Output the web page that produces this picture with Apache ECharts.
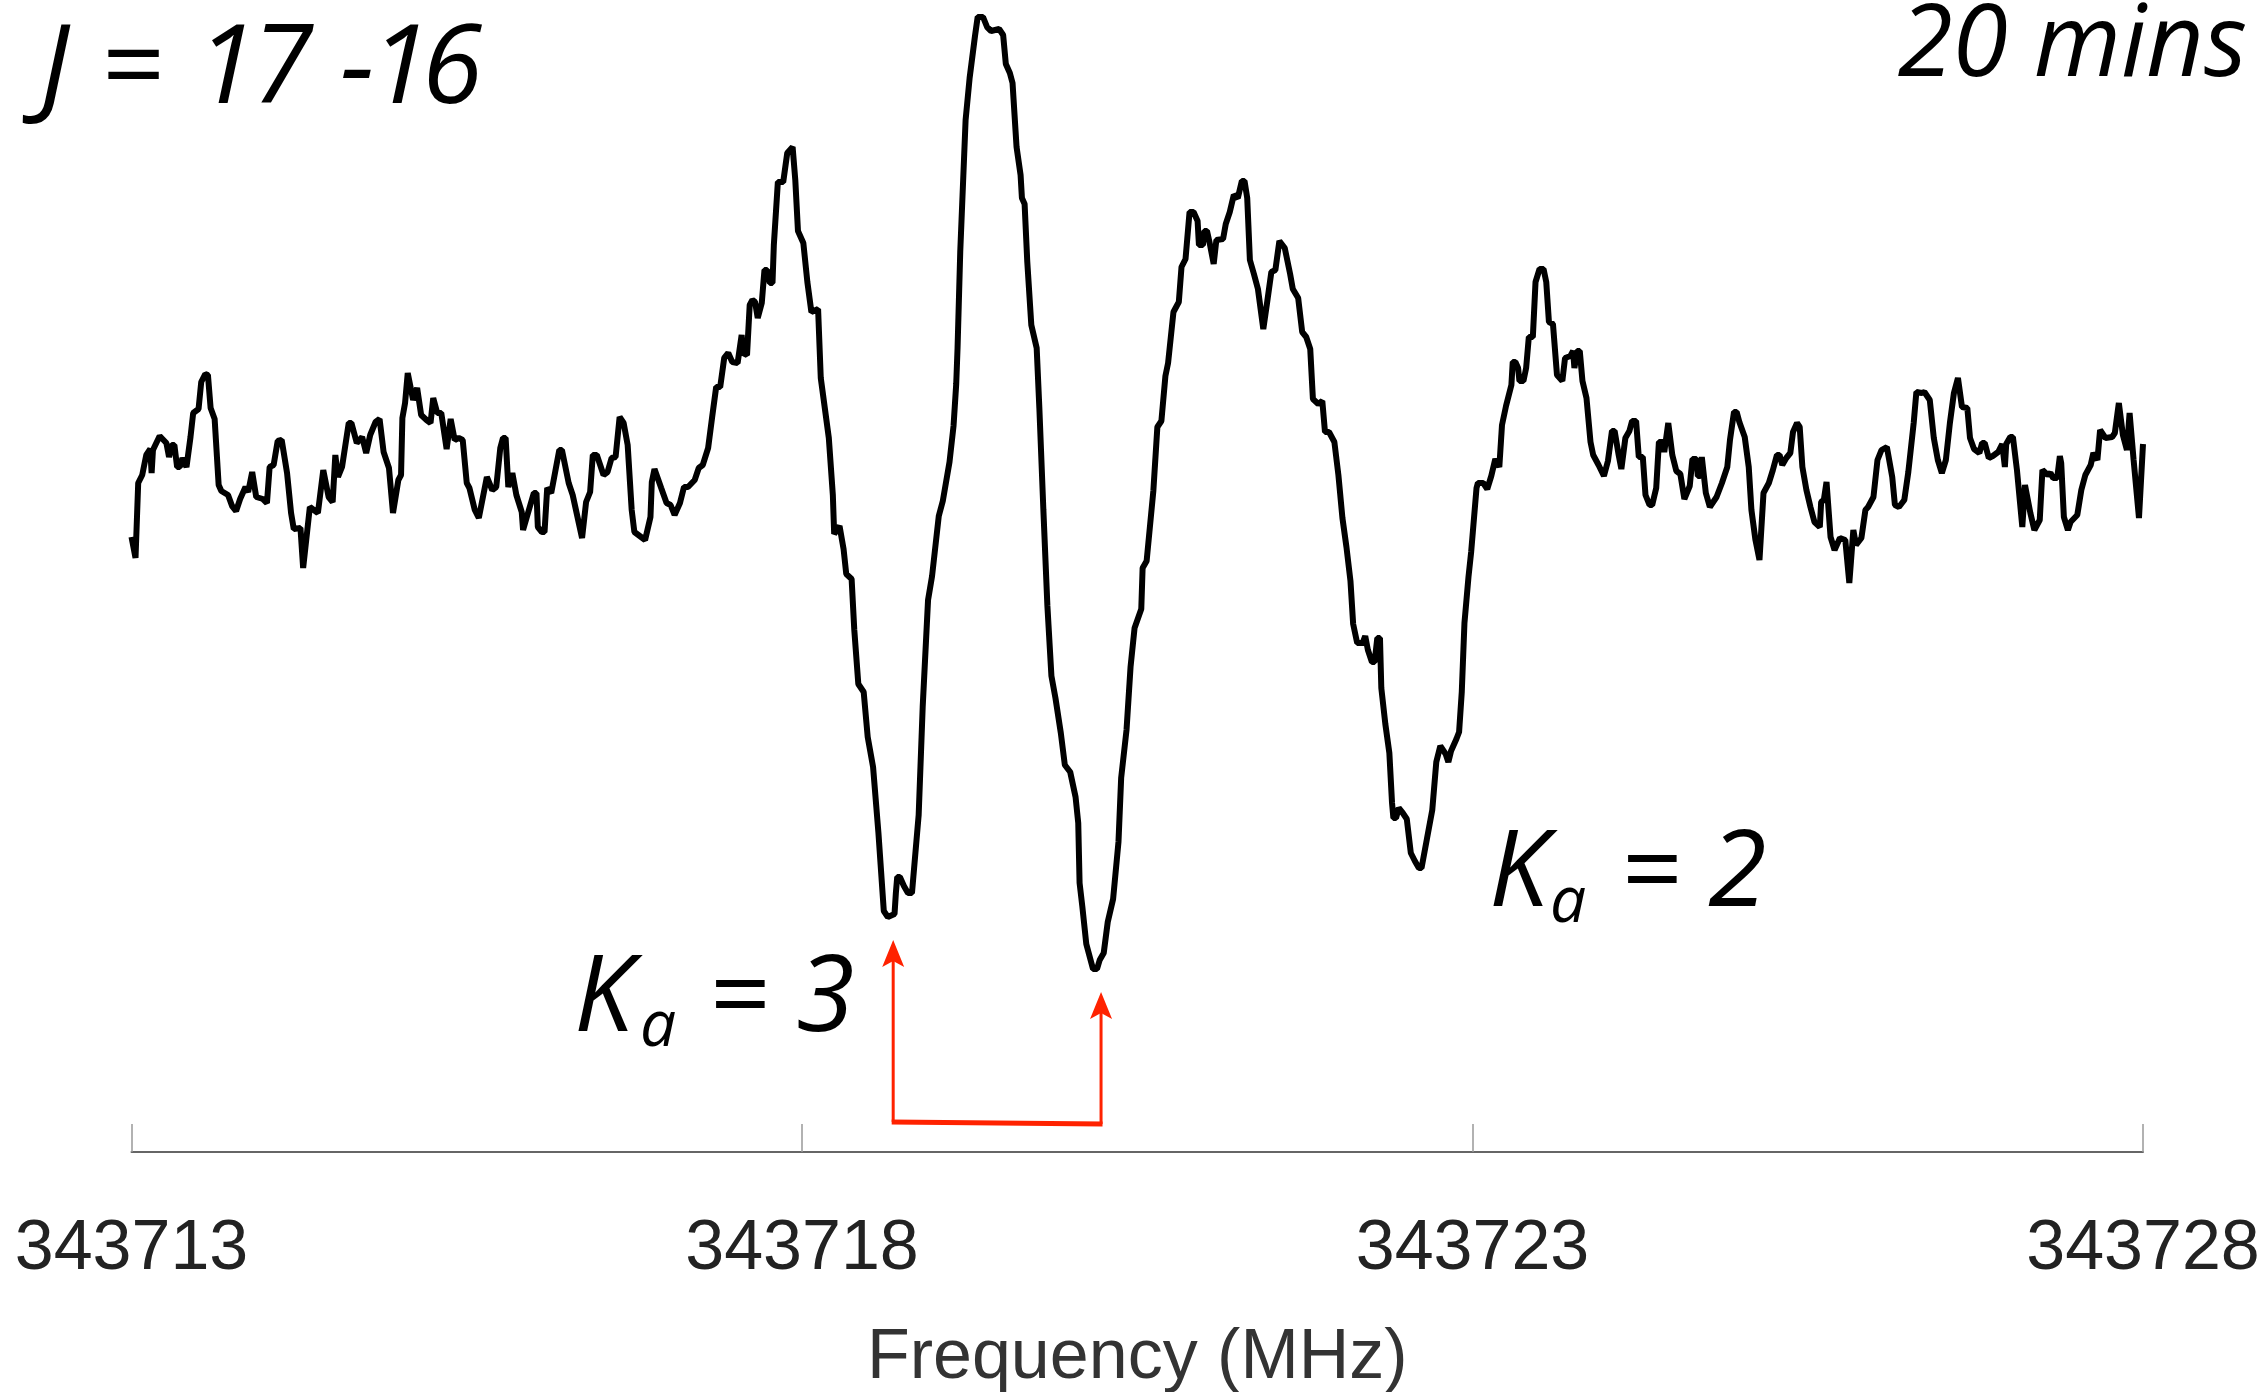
<!DOCTYPE html>
<html>
<head>
<meta charset="utf-8">
<script src="https://cdn.jsdelivr.net/npm/echarts@6/dist/echarts.min.js"></script>
<style>
  html, body { margin: 0; padding: 0; background: #fff; }
  #chart { width: 2266px; height: 1392px; }
</style>
</head>
<body>
<div id="chart"></div>
<script>
// spectrum, frequency in MHz
const freq = [
  343713.00, 343713.03, 343713.05, 343713.08, 343713.11, 343713.14, 343713.15, 343713.16, 343713.21, 343713.26,
  343713.28, 343713.30, 343713.32, 343713.34, 343713.36, 343713.38, 343713.41, 343713.44, 343713.46, 343713.50,
  343713.52, 343713.55, 343713.57, 343713.59, 343713.62, 343713.65, 343713.67, 343713.72, 343713.75, 343713.78,
  343713.81, 343713.85, 343713.87, 343713.90, 343713.93, 343713.98, 343714.01, 343714.03, 343714.06, 343714.09,
  343714.12, 343714.16, 343714.19, 343714.21, 343714.26, 343714.28, 343714.33, 343714.39, 343714.43, 343714.47,
  343714.50, 343714.52, 343714.54, 343714.57, 343714.62, 343714.64, 343714.68, 343714.72, 343714.75, 343714.78,
  343714.82, 343714.85, 343714.88, 343714.92, 343714.95, 343714.99, 343715.01, 343715.02, 343715.04, 343715.06,
  343715.10, 343715.13, 343715.16, 343715.20, 343715.23, 343715.25, 343715.28, 343715.31, 343715.35, 343715.38,
  343715.41, 343715.44, 343715.47, 343715.50, 343715.52, 343715.56, 343715.59,
  343715.65, 343715.69, 343715.72, 343715.75, 343715.77, 343715.79, 343715.81, 343715.84, 343715.85, 343715.87,
  343715.91, 343715.92, 343715.93, 343716.00, 343716.02, 343716.03, 343716.06, 343716.08, 343716.10, 343716.13,
  343716.19, 343716.21, 343716.26, 343716.29, 343716.36, 343716.39, 343716.42, 343716.44, 343716.47, 343716.52,
  343716.55, 343716.58, 343716.61, 343716.64, 343716.67, 343716.70, 343716.73, 343716.75, 343716.83, 343716.87,
  343716.88, 343716.90, 343716.95, 343716.99, 343717.02, 343717.05, 343717.09, 343717.12, 343717.15, 343717.20,
  343717.23, 343717.26, 343717.30, 343717.33, 343717.36, 343717.39, 343717.42, 343717.45, 343717.48, 343717.52,
  343717.55, 343717.56, 343717.59, 343717.61, 343717.63, 343717.65, 343717.67, 343717.70, 343717.72, 343717.74,
  343717.76, 343717.78, 343717.79, 343717.82, 343717.86, 343717.89, 343717.93,
  343717.95, 343717.97, 343718.01, 343718.04, 343718.07, 343718.12, 343718.14, 343718.20, 343718.23, 343718.24,
  343718.28, 343718.31, 343718.33, 343718.37, 343718.39, 343718.42, 343718.46, 343718.49, 343718.53, 343718.57,
  343718.61, 343718.64, 343718.69, 343718.70, 343718.71, 343718.73, 343718.76, 343718.79, 343718.82, 343718.87,
  343718.90, 343718.94, 343718.97, 343719.02, 343719.05, 343719.10, 343719.13, 343719.15, 343719.16, 343719.18,
  343719.22, 343719.25, 343719.29, 343719.31, 343719.35, 343719.38, 343719.41, 343719.47,
  343719.50, 343719.52, 343719.55, 343719.57, 343719.60, 343719.63, 343719.64, 343719.66, 343719.68, 343719.71,
  343719.75, 343719.77, 343719.80, 343719.83, 343719.86, 343719.89, 343719.93, 343719.96, 343720.00, 343720.04,
  343720.06, 343720.07, 343720.09, 343720.12, 343720.17, 343720.20, 343720.22, 343720.25, 343720.28, 343720.32,
  343720.36, 343720.38, 343720.42, 343720.45, 343720.48, 343720.53, 343720.54, 343720.57, 343720.62, 343720.65,
  343720.68, 343720.71, 343720.73,
  343720.77, 343720.81, 343720.83, 343720.86, 343720.89, 343720.92, 343720.95, 343720.96, 343720.99, 343721.00,
  343721.02, 343721.04, 343721.07, 343721.09, 343721.14, 343721.16, 343721.19, 343721.22, 343721.25, 343721.28,
  343721.30, 343721.32, 343721.34, 343721.37, 343721.40, 343721.44, 343721.47, 343721.50, 343721.53, 343721.56,
  343721.60, 343721.64, 343721.66, 343721.70, 343721.73, 343721.76, 343721.79, 343721.81, 343721.85, 343721.88,
  343721.90, 343721.93, 343721.97, 343722.00, 343722.03, 343722.06, 343722.09, 343722.11, 343722.14, 343722.18,
  343722.20, 343722.22, 343722.25, 343722.27, 343722.29, 343722.31, 343722.32, 343722.35, 343722.38, 343722.40,
  343722.41, 343722.43, 343722.45, 343722.48, 343722.51, 343722.54, 343722.57, 343722.60, 343722.62, 343722.66,
  343722.70, 343722.73, 343722.76, 343722.80, 343722.82, 343722.84, 343722.88, 343722.90,
  343722.92, 343722.94, 343722.97, 343722.99, 343723.03, 343723.04, 343723.08, 343723.11, 343723.14, 343723.17,
  343723.20, 343723.22, 343723.25, 343723.29, 343723.30, 343723.32, 343723.34, 343723.35, 343723.38, 343723.40,
  343723.42, 343723.45, 343723.47, 343723.50, 343723.53, 343723.55, 343723.57, 343723.60, 343723.63, 343723.67,
  343723.69, 343723.73, 343723.75, 343723.76, 343723.78, 343723.80, 343723.82, 343723.85, 343723.88, 343723.90,
  343723.94, 343723.98, 343724.01, 343724.04, 343724.06, 343724.09, 343724.11, 343724.14, 343724.17, 343724.19,
  343724.22, 343724.24, 343724.27, 343724.29, 343724.32, 343724.34, 343724.37, 343724.39, 343724.42, 343724.43,
  343724.46, 343724.47, 343724.49, 343724.52, 343724.55, 343724.58, 343724.62, 343724.64, 343724.67, 343724.68,
  343724.70, 343724.71, 343724.72, 343724.74, 343724.77,
  343724.82, 343724.86, 343724.90, 343724.92, 343724.95, 343724.97, 343724.99, 343725.03, 343725.06, 343725.08,
  343725.11, 343725.14, 343725.17, 343725.21, 343725.24, 343725.27, 343725.29, 343725.31, 343725.34, 343725.37,
  343725.39, 343725.42, 343725.44, 343725.46, 343725.49, 343725.52, 343725.55, 343725.59, 343725.60, 343725.62,
  343725.64, 343725.67, 343725.70, 343725.74, 343725.78, 343725.81, 343725.84, 343725.86, 343725.90, 343725.93,
  343725.95, 343725.99, 343726.02, 343726.05, 343726.09, 343726.13, 343726.15, 343726.18, 343726.22, 343726.25,
  343726.29, 343726.31, 343726.35, 343726.37, 343726.41, 343726.44, 343726.47, 343726.50, 343726.53, 343726.56,
  343726.59, 343726.62, 343726.65, 343726.69, 343726.71, 343726.74, 343726.78, 343726.80, 343726.82, 343726.85,
  343726.88, 343726.92, 343726.95, 343726.97, 343726.98, 343727.01, 343727.03, 343727.06, 343727.10, 343727.12,
  343727.16, 343727.19, 343727.23, 343727.25, 343727.29, 343727.31, 343727.33, 343727.36, 343727.38, 343727.39,
  343727.41, 343727.44, 343727.46, 343727.51, 343727.54, 343727.57, 343727.61, 343727.63, 343727.66, 343727.68,
  343727.72, 343727.77, 343727.79, 343727.82, 343727.85, 343727.88, 343727.90, 343727.93, 343727.97, 343728.00
];
// antenna temperature, arbitrary units
const intensity = [
  -3.7, -5.8, 1.7, 2.5, 4.5, 5.1, 2.7, 5.0, 6.4, 5.7,
  4.3, 5.5, 5.5, 3.3, 3.3, 4.2, 3.3, 6.3, 8.7, 9.1,
  11.8, 12.6, 12.5, 9.2, 8.1, 1.5, 0.9, 0.5, -0.6, -1.1,
  0.1, 1.3, 0.8, 2.8, 0.3, 0.1, -0.3, 3.3, 3.5, 5.9,
  6.0, 2.7, -1.3, -2.9, -2.8, -6.8, -0.7, -1.3, 3.0, 0.3,
  -0.2, 4.5, 2.3, 3.3, 7.7, 7.7, 5.7, 6.3, 4.7, 6.5,
  7.8, 8.1, 4.8, 3.2, -1.3, 2.0, 2.5, 8.2, 9.7, 12.7,
  10.0, 11.2, 8.5, 8.0, 7.7, 10.2, 8.7, 8.7, 5.1, 8.1,
  6.0, 6.2, 6.0, 1.7, 1.2, -1.0, -1.8,
  2.3, 1.0, 1.3, 5.2, 6.2, 6.2, 1.3, 2.7, 2.7, 0.5,
  -1.2, -3.0, -2.8, 0.7, 0.7, -2.7, -3.2, -3.2, 1.2, 0.7,
  5.0, 5.0, 1.7, 0.5, -3.8, -0.2, 0.8, 4.5, 4.5, 2.5,
  2.8, 4.2, 4.3, 8.3, 7.7, 5.5, -1.0, -3.2, -4.0, -1.7,
  1.8, 3.1, 1.2, -0.3, -0.5, -1.5, -0.3, 1.3, 1.3, 2.0,
  3.2, 3.5, 5.2, 8.3, 11.3, 11.3, 14.2, 14.7, 13.8, 13.7,
  16.5, 14.7, 14.5, 19.5, 20.0, 19.8, 18.2, 19.7, 23.0, 23.0,
  21.7, 21.7, 25.5, 31.8, 31.8, 34.7, 35.3,
  32.0, 26.9, 25.7, 21.8, 18.8, 19.1, 12.2, 6.2, 0.5, -3.4,
  -2.6, -4.9, -7.4, -7.9, -13.0, -18.4, -19.2, -23.7, -26.7, -33.3,
  -41.1, -41.7, -41.4, -39.3, -37.7, -37.7, -38.6, -39.3, -39.3, -31.5,
  -20.7, -10.0, -7.6, -1.6, -0.1, 3.8, 7.4, 11.6, 15.2, 24.8,
  38.0, 42.2, 46.4, 48.3, 48.3, 47.3, 46.9, 47.1,
  46.5, 43.6, 42.7, 41.7, 35.3, 32.5, 30.2, 29.6, 23.8, 17.5,
  15.2, 9.2, -1.0, -10.6, -17.6, -19.8, -23.3, -26.5, -27.2, -29.7,
  -32.3, -38.3, -40.6, -44.4, -46.9, -46.9, -46.0, -45.3, -42.2, -39.9,
  -34.2, -27.8, -23.0, -16.7, -12.8, -10.9, -6.8, -6.1, 0.9, 7.3,
  7.9, 12.4, 13.7,
  18.8, 19.8, 23.3, 24.1, 28.8, 28.8, 27.9, 25.5, 25.5, 26.9,
  26.9, 25.7, 23.6, 26.0, 26.1, 27.6, 28.8, 30.5, 30.2, 31.9,
  31.9, 30.2, 24.0, 22.6, 21.1, 17.1, 19.9, 22.8, 23.0, 25.9,
  25.2, 22.6, 21.1, 20.2, 16.8, 16.3, 15.1, 10.1, 9.6, 9.9,
  6.8, 6.8, 5.8, 2.5, -1.8, -4.7, -8.1, -12.4, -14.3, -14.3,
  -13.6, -15.0, -16.2, -16.2, -13.8, -13.8, -18.8, -22.4, -25.3, -30.3,
  -31.8, -31.8, -30.8, -31.3, -31.9, -35.3, -36.1, -36.8, -36.8, -33.9,
  -31.0, -26.2, -24.6, -25.4, -26.2, -25.1, -23.9, -23.2,
  -19.2, -12.3, -7.7, -5.2, 1.2, 1.7, 1.7, 1.1, 2.4, 4.1,
  3.3, 7.5, 9.4, 11.5, 13.8, 13.8, 13.2, 11.9, 11.9, 13.2,
  16.3, 16.3, 21.8, 23.1, 23.1, 21.8, 17.8, 17.6, 12.5, 11.9,
  14.2, 14.4, 14.9, 13.2, 14.9, 14.9, 11.9, 10.2, 5.8, 4.5,
  3.5, 2.4, 3.9, 6.9, 6.9, 4.5, 3.1, 6.2, 6.9, 7.9,
  7.9, 4.3, 4.3, 0.5, -0.5, -0.5, 1.2, 5.8, 5.8, 4.8,
  7.7, 7.7, 4.5, 2.9, 2.6, 0.1, 1.4, 4.1, 4.1, 2.4,
  2.4, 4.3, 4.3, 0.7, -0.7,
  0.3, 1.7, 3.3, 6.0, 8.8, 8.8, 7.8, 6.3, 3.3, -1.0,
  -4.0, -6.0, 0.7, 1.7, 3.0, 4.5, 4.5, 3.5, 4.2, 4.7,
  6.8, 7.7, 7.3, 3.3, 1.0, -0.7, -2.2, -2.7, -0.2, 0.0,
  1.8, -3.7, -5.0, -3.8, -4.0, -8.3, -3.0, -4.5, -3.8, -1.0,
  -0.7, 0.3, 4.0, 5.0, 5.3, 2.3, -0.5, -0.7, 0.0, 2.8,
  7.7, 10.8, 10.7, 10.8, 10.0, 6.2, 4.0, 2.7, 4.0, 7.7,
  10.7, 12.2, 9.3, 9.2, 6.2, 5.1, 4.7, 5.7, 5.7, 4.2,
  4.4, 4.8, 5.6, 3.3, 5.6, 6.3, 6.3, 3.0, -2.7, 1.5,
  -1.3, -3.0, -2.0, 3.0, 2.5, 2.7, 2.2, 2.2, 4.4, 3.7,
  -1.7, -3.0, -2.2, -1.5, 1.0, 2.5, 3.5, 4.7, 4.0, 7.0,
  6.2, 6.3, 6.7, 9.7, 6.5, 5.0, 8.7, 4.0, -1.8, 5.6
];

// red marker arrows for the Ka = 3 doublet
const arrowFreq = [343718.68, 343720.23];
const arrowTip = [-44.0, -49.2];
const arrowBase = [-62.2, -62.4];

const RED = '#ff2200';

const chart = echarts.init(document.getElementById('chart'));

chart.setOption({
  animation: false,
  backgroundColor: '#fff',
  grid: { left: 131.5, right: 123, top: 0, bottom: 240, containLabel: false, outerBoundsMode: 'none' },
  xAxis: {
    type: 'value',
    min: 343713,
    max: 343728,
    interval: 5,
    name: 'Frequency (MHz)',
    nameLocation: 'middle',
    nameGap: 172,
    nameTextStyle: { fontFamily: 'Liberation Sans', fontSize: 70, color: '#333', lineHeight: 70 },
    axisLine: { onZero: false, lineStyle: { color: '#666', width: 2 } },
    axisTick: { inside: true, length: 28, lineStyle: { color: '#999', width: 1.5 } },
    axisLabel: {
      margin: 63,
      fontFamily: 'Liberation Sans',
      fontSize: 70,
      lineHeight: 70,
      color: '#222',
      formatter: v => String(v)
    },
    splitLine: { show: false }
  },
  yAxis: { type: 'value', min: -65.2, max: 50, show: false },
  series: [{
    type: 'line',
    data: freq.map((f, i) => [f, intensity[i]]),
    showSymbol: false,
    lineStyle: { color: '#000', width: 6 },
    clip: false
  }]
});

// annotations
const p0 = chart.convertToPixel({ gridIndex: 0 }, [arrowFreq[0], arrowTip[0]]);
const p1 = chart.convertToPixel({ gridIndex: 0 }, [arrowFreq[1], arrowTip[1]]);
const b0 = chart.convertToPixel({ gridIndex: 0 }, [arrowFreq[0], arrowBase[0]]);
const b1 = chart.convertToPixel({ gridIndex: 0 }, [arrowFreq[1], arrowBase[1]]);

function head(p) {
  return {
    type: 'polygon',
    shape: { points: [[p[0], p[1]], [p[0] - 11, p[1] + 27], [p[0], p[1] + 21], [p[0] + 11, p[1] + 27]] },
    style: { fill: RED }
  };
}

function txt(text, x, y, size, align) {
  return {
    type: 'text', x: x, y: y,
    style: {
      text: text, fontFamily: 'Open Sans', fontStyle: 'italic', fontSize: size,
      fill: '#000', align: align || 'left', verticalAlign: 'middle'
    }
  };
}

chart.setOption({
  graphic: [
    { type: 'line', shape: { x1: p0[0], y1: p0[1] + 20, x2: b0[0], y2: b0[1] }, style: { stroke: RED, lineWidth: 3 } },
    { type: 'line', shape: { x1: p1[0], y1: p1[1] + 20, x2: b1[0], y2: b1[1] }, style: { stroke: RED, lineWidth: 3 } },
    { type: 'line', shape: { x1: b0[0] - 1.5, y1: b0[1], x2: b1[0] + 1.5, y2: b1[1] }, style: { stroke: RED, lineWidth: 5 } },
    head(p0),
    head(p1),
    // J = 17 -16, glyphs spaced like the original lettering
    txt('J', 40, 72, 110),
    txt('=', 100, 72, 110),
    txt('1', 196, 72, 110),
    txt('7', 252, 72, 110),
    txt('-', 340, 72, 110),
    txt('1', 370, 72, 110),
    txt('6', 422, 72, 110),
    txt('20 mins', 2247, 48, 100, 'right'),
    txt('K', 574, 1001, 106),
    txt('a', 640, 1028, 64),
    txt('= 3', 708, 1001, 106),
    txt('K', 1489, 876, 106),
    txt('a', 1550, 904, 64),
    txt('= 2', 1620, 876, 106)
  ]
});
</script>
</body>
</html>
